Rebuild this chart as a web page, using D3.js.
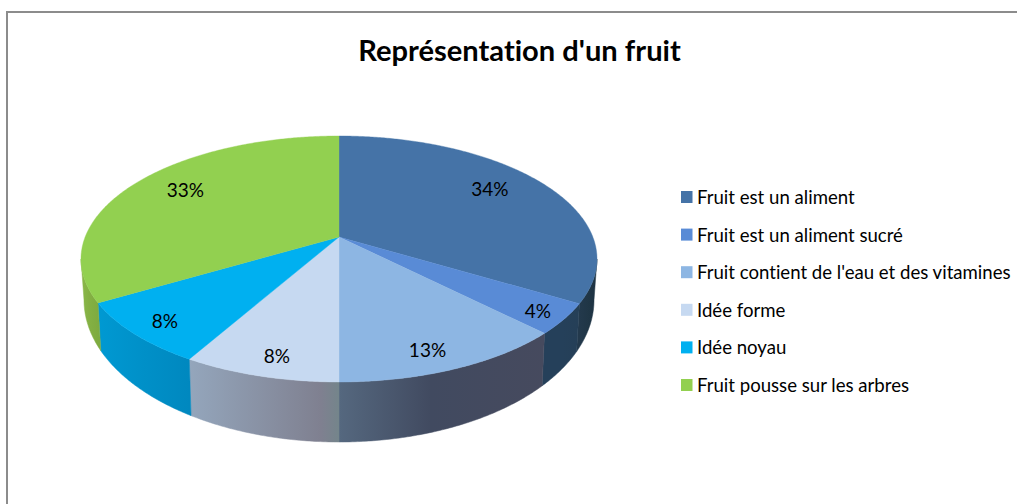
<!DOCTYPE html>
<html><head><meta charset="utf-8">
<script src="https://cdnjs.cloudflare.com/ajax/libs/d3/7.8.5/d3.min.js"></script>
<style>html,body{margin:0;padding:0;background:#fff}svg{display:block}text{font-family:Lato,"Noto Sans",sans-serif;fill:#000;font-variant-ligatures:none}</style>
</head><body><svg id="c" width="1017" height="504"></svg>
<script>
const categories=["Fruit est un aliment","Fruit est un aliment sucré","Fruit contient de l'eau et des vitamines","Idée forme","Idée noyau","Fruit pousse sur les arbres"];
const values=[33.5,4.0,12.5,8.3,8.3,33.4];
const shownPercent=["34%","4%","13%","8%","8%","33%"];
const topColors=["#4573a7","#598bd6","#8db6e3","#c6d9f1","#00b0f0","#92d050"];
const wallStart=["#23394c","#25405a","#55687f","#94a6bc","#0099d2","#8ab84a"];
const wallMid=["#203646","#25405a","#414a60","#7f8090","#0090c8","#84b043"];
const wallEnd=["#1d3242","#253f57","#464a5e","#74858b","#0088bf","#7eab40"];
const wallMidAt=[.5,.5,.45,.88,.5,.5];
const labelRadius=[.78,.90,.86,.87,.87,.78];
const labelTurn=[-5,.6,2.2,-1.1,-.3,3.5];
const svg=d3.select("#c");
const W=1017,H=504;
const tilt=.179, k=Math.sqrt(1-tilt*tilt), rad=Math.PI/180;
const xTop=d3.scaleLinear().domain([-1,1]).range([81,597]);
const yTop=d3.scaleLinear().domain([-1,1]).range([382,136]);
const xBot=d3.scaleLinear().domain([-1,1]).range([84,594]);
const yBot=d3.scaleLinear().domain([-1,1]).range([442,158]);
const disc=(a,r=1)=>{const x=r*Math.sin(a),y=r*Math.cos(a),d=1+tilt*y;return[x*k/d,(y+tilt)/d];};
const onTop=(a,r=1)=>{const p=disc(a,r);return[xTop(p[0]),yTop(p[1])];};
const onBot=a=>{const p=disc(a);return[xBot(p[0]),yBot(p[1])];};
const arcAngles=(a,b)=>{const n=Math.max(2,Math.ceil((b-a)/(.5*rad)));return d3.range(n+1).map(i=>a+(b-a)*i/n);};
const pie=d3.pie().sort(null).value(d=>d)(values);
const line=d3.line();
const defs=svg.append("defs");

// frame
svg.append("rect").attr("x",7).attr("y",12).attr("width",W+20).attr("height",H+20).attr("fill","#fff").attr("stroke","#8c8c8c").attr("stroke-width",2);

// walls
const frontFrom=Math.acos(-tilt), frontTo=2*Math.PI-frontFrom;
pie.forEach((s,i)=>{
  const a=Math.max(s.startAngle,frontFrom), b=Math.min(s.endAngle,frontTo);
  if(b<=a) return;
  const A=arcAngles(a,b), T=A.map(t=>onTop(t)), B=A.map(onBot).reverse();
  const id="w"+i, g=defs.append("linearGradient").attr("id",id).attr("gradientUnits","userSpaceOnUse")
    .attr("x1",Math.min(T[0][0],T[T.length-1][0])).attr("x2",Math.max(T[0][0],T[T.length-1][0])).attr("y1",0).attr("y2",0);
  g.append("stop").attr("offset",0).attr("stop-color",wallStart[i]);
  g.append("stop").attr("offset",wallMidAt[i]).attr("stop-color",wallMid[i]);
  g.append("stop").attr("offset",1).attr("stop-color",wallEnd[i]);
  svg.append("path").attr("d",line(T.concat(B))+"Z").attr("fill",`url(#${id})`).attr("stroke",`url(#${id})`).attr("stroke-width",.5);
});
// top faces
const apex=onTop(0,0);
pie.forEach((s,i)=>{
  const P=[apex].concat(arcAngles(s.startAngle,s.endAngle).map(t=>onTop(t)));
  svg.append("path").attr("d",line(P)+"Z").attr("fill",topColors[i]).attr("stroke",topColors[i]).attr("stroke-width",.4);
});
// value labels
pie.forEach((s,i)=>{
  const p=onTop((s.startAngle+s.endAngle)/2+labelTurn[i]*rad,labelRadius[i]);
  svg.append("text").attr("x",p[0]).attr("y",p[1]).attr("text-anchor","middle").attr("dominant-baseline","central")
    .attr("font-size",19).text(shownPercent[i]);
});
// title
svg.append("text").attr("x",519.5).attr("y",61).attr("text-anchor","middle").attr("font-size",29.1).attr("font-weight",700).text("Représentation d'un fruit");
// legend
const yLeg=d3.scalePoint().domain(categories).range([197,385]);
categories.forEach((c,i)=>{
  svg.append("rect").attr("x",681).attr("y",yLeg(c)-6).attr("width",11.5).attr("height",12).attr("fill",topColors[i]);
  svg.append("text").attr("x",697).attr("y",yLeg(c)).attr("dominant-baseline","central").attr("font-size",18.6).text(c);
});
</script></body></html>
